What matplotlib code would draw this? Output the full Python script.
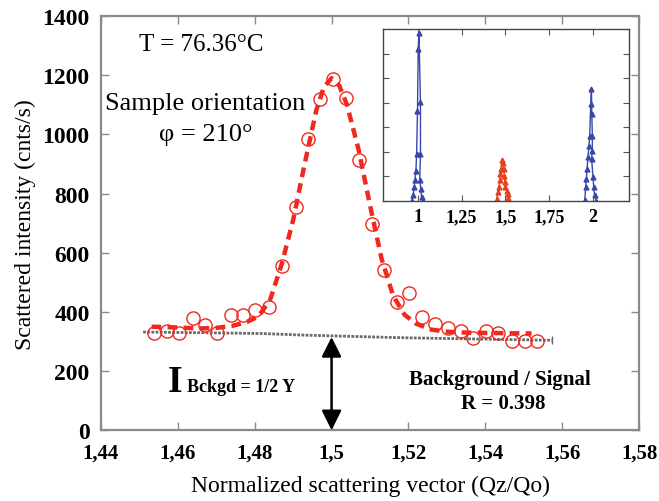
import matplotlib
matplotlib.use("Agg")
import matplotlib.pyplot as plt

plt.rcParams['font.family'] = ['Liberation Serif', 'DejaVu Serif']

# measured scattered intensity around the 1.5 reflection
q_meas = [1.4538, 1.4571, 1.4603, 1.4639, 1.4671, 1.4701, 1.4738, 1.4769, 1.4802, 1.4837,
          1.4870, 1.4907, 1.4938, 1.4970, 1.5003, 1.5038, 1.5072, 1.5104, 1.5137, 1.5169,
          1.5202, 1.5234, 1.5269, 1.5304, 1.5336, 1.5369, 1.5402, 1.5434, 1.5470, 1.5503,
          1.5535]
i_meas = [330, 336, 328, 378, 355, 328, 389, 391, 407, 417,
          556, 753, 984, 1119, 1187, 1122, 914, 697, 542, 434,
          463, 384, 358, 344, 334, 313, 334, 330, 302, 302,
          302]

# gaussian fit of the peak
q_fit = [1.4532, 1.458, 1.462, 1.466, 1.470, 1.474, 1.478, 1.481, 1.484, 1.487,
         1.490, 1.493, 1.496, 1.498, 1.500, 1.502, 1.504, 1.507, 1.510, 1.513,
         1.516, 1.519, 1.522, 1.526, 1.530, 1.535, 1.540, 1.545, 1.552]
i_fit = [350, 348, 346, 344, 346, 352, 366, 385, 440, 560,
         710, 900, 1080, 1160, 1190, 1165, 1100, 950, 760, 580,
         455, 390, 360, 340, 333, 330, 329, 328, 327]

# background level
q_bg = [1.451, 1.4817, 1.4938, 1.5059, 1.5172, 1.5302, 1.5573]
i_bg = [332, 327, 321, 317, 313, 310, 304]
q_arrow = 1.5
i_arrow = 315

# wide scan (inset): peaks at 1, 1.5 and 2
q_p1 = [0.964, 0.973, 0.979, 0.983, 0.989, 0.993, 0.998, 1.002, 1.006,
        1.015, 1.015, 1.011, 1.017, 1.021, 1.030]
i_p1 = [0.01, 0.22, 0.56, 0.83, 1.23, 1.91, 3.67, 6.18, 6.86,
        4.01, 1.91, 0.85, 0.50, 0.15, 0.01]
q_p15 = [1.452, 1.457, 1.463, 1.469, 1.472, 1.476, 1.481, 1.486, 1.491, 1.495,
         1.497, 1.500, 1.508, 1.514, 1.518]
i_p15 = [0.08, 0.35, 0.56, 0.83, 1.10, 1.30, 1.65, 1.55, 1.30, 1.03,
         0.76, 0.56, 0.42, 0.28, 0.10]
q_p2 = [1.955, 1.960, 1.964, 1.968, 1.973, 1.979, 1.983, 1.989, 1.993,
        1.995, 1.998, 1.998, 1.994, 2.002, 2.006, 2.011, 2.021]
i_p2 = [0.05, 0.56, 0.89, 1.30, 1.78, 2.25, 2.66, 3.94, 4.55,
        3.54, 2.66, 2.05, 1.71, 0.96, 0.56, 0.22, 0.01]

x_ticks = [1.44, 1.46, 1.48, 1.5, 1.52, 1.54, 1.56, 1.58]
y_ticks = [0, 200, 400, 600, 800, 1000, 1200, 1400]
inset_ticks = [1, 1.25, 1.5, 1.75, 2]


def comma(v):
    return f"{v:g}".replace('.', ',')


red = '#f0281e'
grey = '#8a8a8a'
bold_x = dict(family='Liberation Serif', weight='bold', size=15)
bold_y = dict(family='Liberation Serif', weight='bold', size=17)
bold_in = dict(family='Liberation Serif', weight='bold', size=13)

fig = plt.figure(figsize=(6.59, 5.02), dpi=100)
ax = fig.add_axes([0.153, 0.141, 0.817, 0.825])

ax.plot(q_bg, i_bg, color='#6a6a6a', lw=2.0, ls=(0, (1, 0.5)), zorder=2)
ax.plot(q_bg[-1], i_bg[-1], marker='|', color='#6a6a6a', ms=6, zorder=2)
ax.plot(q_meas, i_meas, 'o', mfc='none', mec=red, ms=9.5, mew=1.0, zorder=3)
ax.plot(q_fit, i_fit, color=red, lw=3.2, ls=(0, (2.2, 1.4)), zorder=4)

ax.annotate('', xy=(q_arrow, 0), xytext=(q_arrow, i_arrow),
            arrowprops=dict(arrowstyle='<|-|>', color='black', lw=1.8,
                            mutation_scale=30, shrinkA=0, shrinkB=0))

ax.set_xlim(1.44, 1.58)
ax.set_ylim(0, 1400)
ax.tick_params(direction='in', length=6, width=1, color=grey, top=True, right=True)
ax.tick_params(axis='x', pad=9)
ax.tick_params(axis='y', pad=8)
ax.set_xticks(x_ticks)
ax.set_yticks(y_ticks)
ax.set_xticklabels([comma(v) for v in x_ticks], fontdict=bold_x)
ax.set_yticklabels([str(v) for v in y_ticks], fontdict=bold_y)
for s in ax.spines.values():
    s.set_color(grey)
    s.set_linewidth(1.6)

ax.set_xlabel('Normalized scattering vector (Qz/Qo)', fontsize=17, labelpad=9)
ax.set_ylabel('Scattered intensity (cnts/s)', fontsize=17, labelpad=5)

ax.text(1.4662, 1305, 'T = 76.36°C', fontsize=18, ha='center', va='center')
ax.text(1.4671, 1106, 'Sample orientation', fontsize=19, ha='center', va='center')
ax.text(1.4673, 1001, 'φ = 210°', fontsize=19, ha='center', va='center')
ax.text(1.4575, 132, 'I', fontsize=27, fontweight='bold', ha='left', va='baseline')
ax.text(1.4625, 132, 'Bckgd = 1/2 Y', fontsize=13, fontweight='bold', ha='left', va='baseline')
ax.text(1.5438, 172, 'Background / Signal', fontsize=15, fontweight='bold', ha='center', va='center')
ax.text(1.5446, 91, 'R = 0.398', fontsize=15, fontweight='bold', ha='center', va='center')

# inset with the wide scan
ins = fig.add_axes([0.581, 0.598, 0.373, 0.342])
ins.plot(q_p1, i_p1, color='#3848a8', lw=1.0, marker='^', ms=3.5)
ins.plot(q_p15, i_p15, color='#e8401c', lw=1.0, marker='^', ms=3.5)
ins.plot(q_p2, i_p2, color='#3848a8', lw=1.0, marker='^', ms=3.5)
ins.set_xlim(0.8, 2.206)
ins.set_ylim(0, 7)
ins.tick_params(direction='in', length=4, width=0.8, color='#555555',
                top=True, right=True, pad=5)
ins.set_xticks(inset_ticks)
ins.set_xticklabels([comma(v) for v in inset_ticks], fontdict=bold_in)
ins.set_yticks([1, 2, 3, 4, 5, 6], labels=[])
for s in ins.spines.values():
    s.set_color('#444444')
    s.set_linewidth(1.0)

fig.savefig('out.png', dpi=100)
